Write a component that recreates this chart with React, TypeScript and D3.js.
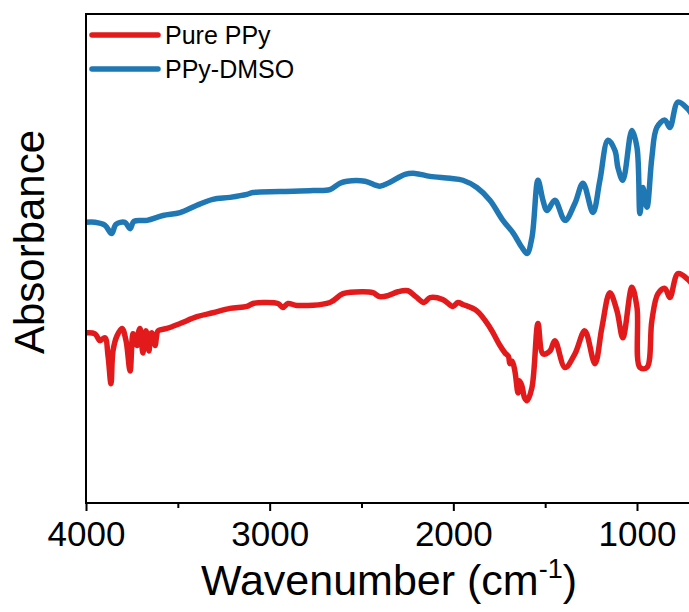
import React, { useEffect, useRef } from "react";
import * as d3 from "d3";

// wavenumber (cm-1) and absorbance (a.u.)
const pureWn = [4000, 3951, 3924, 3897, 3880, 3864, 3853, 3831, 3804, 3782, 3760, 3744, 3730, 3722, 3714, 3706, 3698, 3690, 3681, 3673, 3665, 3657, 3649, 3641, 3632, 3624, 3616, 3608, 3559, 3488, 3396, 3309, 3216, 3124, 3091, 3036, 2955, 2928, 2900, 2851, 2672, 2601, 2492, 2438, 2400, 2356, 2302, 2247, 2204, 2160, 2127, 2057, 2002, 1975, 1948, 1872, 1801, 1746, 1719, 1700, 1692, 1680, 1665, 1648, 1640, 1627, 1612, 1599, 1572, 1539, 1512, 1474, 1447, 1392, 1338, 1284, 1229, 1191, 1148, 1109, 1077, 1028, 1000, 984, 946, 919, 886, 848, 821, 777, 717, 700];
const pureAbs = [0.348, 0.346, 0.332, 0.338, 0.301, 0.244, 0.311, 0.342, 0.357, 0.332, 0.27, 0.346, 0.33, 0.322, 0.35, 0.357, 0.33, 0.307, 0.34, 0.352, 0.325, 0.311, 0.345, 0.348, 0.33, 0.322, 0.34, 0.352, 0.357, 0.367, 0.381, 0.389, 0.398, 0.402, 0.408, 0.41, 0.408, 0.4, 0.408, 0.404, 0.41, 0.428, 0.432, 0.43, 0.422, 0.424, 0.432, 0.434, 0.422, 0.41, 0.42, 0.416, 0.402, 0.41, 0.406, 0.393, 0.359, 0.322, 0.307, 0.3, 0.285, 0.29, 0.27, 0.225, 0.25, 0.24, 0.215, 0.209, 0.236, 0.367, 0.305, 0.311, 0.332, 0.277, 0.305, 0.352, 0.285, 0.359, 0.43, 0.393, 0.338, 0.441, 0.4, 0.277, 0.277, 0.373, 0.428, 0.439, 0.42, 0.469, 0.455, 0.447];

const dmsoWn = [4000, 3951, 3897, 3860, 3837, 3788, 3760, 3739, 3668, 3581, 3488, 3396, 3309, 3216, 3124, 3091, 2944, 2764, 2672, 2617, 2579, 2481, 2400, 2345, 2263, 2209, 2127, 2018, 1948, 1872, 1801, 1730, 1676, 1627, 1599, 1572, 1539, 1512, 1490, 1447, 1392, 1338, 1294, 1240, 1202, 1158, 1120, 1104, 1077, 1028, 1000, 984, 968, 946, 919, 892, 848, 821, 777, 717, 700];
const dmsoAbs = [0.574, 0.574, 0.568, 0.551, 0.57, 0.574, 0.561, 0.576, 0.578, 0.588, 0.594, 0.609, 0.621, 0.625, 0.631, 0.635, 0.637, 0.639, 0.641, 0.654, 0.658, 0.658, 0.648, 0.656, 0.672, 0.674, 0.668, 0.664, 0.66, 0.645, 0.619, 0.578, 0.553, 0.523, 0.51, 0.543, 0.66, 0.619, 0.598, 0.619, 0.578, 0.613, 0.654, 0.594, 0.66, 0.742, 0.721, 0.686, 0.66, 0.762, 0.727, 0.592, 0.645, 0.605, 0.707, 0.768, 0.783, 0.768, 0.82, 0.803, 0.793];

const seriesNames = ["Pure PPy", "PPy-DMSO"];
const seriesColors = ["#e31a1c", "#1f78b4"];
const xTicks = [4000, 3000, 2000, 1000];
const xMinorTicks = [3500, 2500, 1500];

const App = () => {
  const svgRef = useRef(null);

  useEffect(() => {
    const width = 689;
    const left = 86,
      top = 14,
      bottom = 503;
    const font = "Liberation Sans, Arial, sans-serif";

    const svg = d3.select(svgRef.current);
    svg.selectAll("*").remove();

    const x = d3.scaleLinear().domain([4000, 1000]).range([left, 637]);
    const y = d3.scaleLinear().domain([0, 1]).range([bottom, top]);

    const series = [
      pureWn.map((w, i) => ({ w, a: pureAbs[i] })),
      dmsoWn.map((w, i) => ({ w, a: dmsoAbs[i] })),
    ];

    const line = d3
      .line<any>()
      .x((d) => x(d.w))
      .y((d) => y(d.a))
      .curve(d3.curveCatmullRom.alpha(0.5));

    svg
      .append("defs")
      .append("clipPath")
      .attr("id", "plot")
      .append("rect")
      .attr("x", left)
      .attr("y", top)
      .attr("width", width - left)
      .attr("height", bottom - top);

    series.forEach((s, i) => {
      svg
        .append("path")
        .datum(s)
        .attr("clip-path", "url(#plot)")
        .attr("fill", "none")
        .attr("stroke", seriesColors[i])
        .attr("stroke-width", 5.5)
        .attr("stroke-linejoin", "round")
        .attr("stroke-linecap", "round")
        .attr("d", line);
    });

    // frame
    svg
      .append("path")
      .attr("d", `M${width + 10},${top}H${left}V${bottom}H${width + 10}`)
      .attr("fill", "none")
      .attr("stroke", "#000")
      .attr("stroke-width", 2);

    // x axis ticks
    svg
      .append("g")
      .attr("transform", `translate(0,${bottom})`)
      .call(d3.axisBottom(x).tickValues(xTicks).tickSize(8).tickPadding(10).tickFormat(d3.format("d")))
      .call((g) => g.select(".domain").remove())
      .call((g) => g.selectAll(".tick line").attr("stroke", "#000").attr("stroke-width", 2))
      .call((g) => g.selectAll("text").attr("fill", "#000").attr("font-size", 35).attr("font-family", font));
    svg
      .append("g")
      .attr("transform", `translate(0,${bottom})`)
      .call(d3.axisBottom(x).tickValues(xMinorTicks).tickSize(5).tickFormat(() => ""))
      .call((g) => g.select(".domain").remove())
      .call((g) => g.selectAll(".tick line").attr("stroke", "#000").attr("stroke-width", 2));

    // axis titles
    const xt = svg
      .append("text")
      .attr("x", 389)
      .attr("y", 595)
      .attr("text-anchor", "middle")
      .attr("font-family", font)
      .attr("font-size", 43)
      .attr("fill", "#000");
    xt.append("tspan").text("Wavenumber (cm");
    xt.append("tspan").attr("font-size", 27).attr("dy", -17).text("-1");
    xt.append("tspan").attr("dy", 17).text(")");

    svg
      .append("text")
      .attr("transform", `translate(44,242) rotate(-90)`)
      .attr("text-anchor", "middle")
      .attr("font-family", font)
      .attr("font-size", 42)
      .attr("fill", "#000")
      .text("Absorbance");

    // legend
    const legendY = [35, 69];
    seriesNames.forEach((name, i) => {
      svg
        .append("line")
        .attr("x1", 92)
        .attr("x2", 158)
        .attr("y1", legendY[i])
        .attr("y2", legendY[i])
        .attr("stroke", seriesColors[i])
        .attr("stroke-width", 5.5)
        .attr("stroke-linecap", "round");
      svg
        .append("text")
        .attr("x", 165)
        .attr("y", legendY[i] + 9)
        .attr("font-family", font)
        .attr("font-size", 25)
        .attr("fill", "#000")
        .text(name);
    });
  }, []);

  return (
    <svg
      ref={svgRef}
      width={689}
      height={612}
      style={{ position: "absolute", left: 0, top: 0, background: "#fff" }}
    ></svg>
  );
};

export default App;
